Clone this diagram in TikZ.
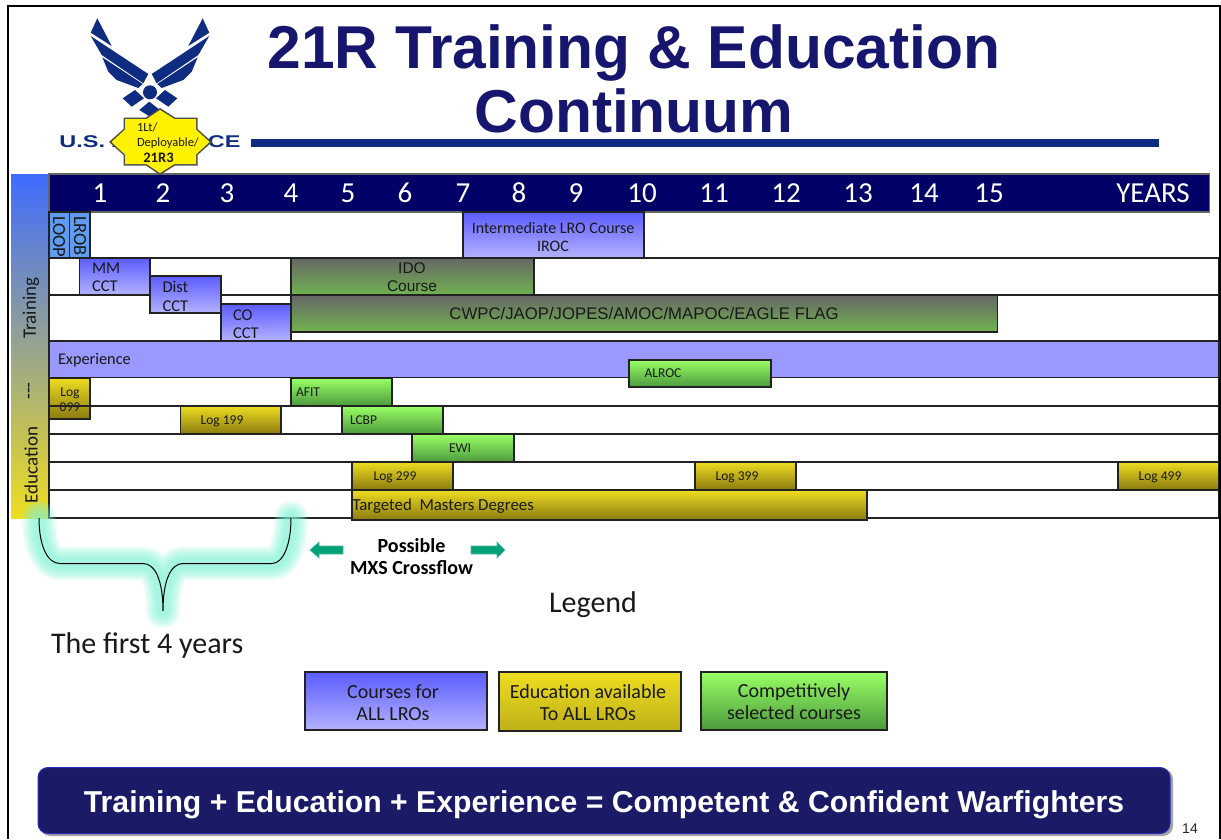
\documentclass[tikz,border=0pt]{standalone}
\usepackage{fontspec}
\setmainfont{Carlito}
\newfontfamily\arialf{Liberation Sans}
\usetikzlibrary{calc}
\definecolor{navyh}{HTML}{000066}
\definecolor{titleblue}{HTML}{16166E}
\definecolor{afblue}{HTML}{0F2D80}
\definecolor{edge}{HTML}{222222}
\definecolor{bluetop}{HTML}{5C5CFF}
\definecolor{bluebot}{HTML}{B3B3FF}
\definecolor{yeltop}{HTML}{EEDD20}
\definecolor{yelbot}{HTML}{8A7A10}
\definecolor{gretop}{HTML}{99FF66}
\definecolor{grebot}{HTML}{4C9A3C}
\definecolor{graytop}{HTML}{666666}
\definecolor{grnbot}{HTML}{70B34F}
\definecolor{glow}{HTML}{7FF5D8}
\definecolor{teal}{HTML}{00A078}
\definecolor{banner}{HTML}{1A1A66}
\definecolor{ltblue}{HTML}{5F9BEE}
\tikzset{
  boxb/.style={draw=edge,line width=1.1pt,inner sep=0pt,outer sep=0pt,anchor=north west},
  rowbox/.style={boxb,fill=white},
  bluebar/.style={boxb,top color=bluetop,bottom color=bluebot},
  yelbar/.style={boxb,top color=yeltop,bottom color=yelbot},
  grebar/.style={boxb,top color=gretop,bottom color=grebot},
  grnbar/.style={boxb,top color=graytop,bottom color=grnbot},
  lightblue/.style={boxb,fill=ltblue},
  txt/.style={inner sep=0pt,outer sep=0pt,text=black!90},
  yr/.style={txt,text=white,anchor=base,font=\fontsize{29}{29}\selectfont},
  small/.style={txt,font=\fontsize{13.5}{14}\selectfont},
  leg/.style={txt,font=\fontsize{20}{22}\selectfont,align=center},
  big/.style={txt,font=\fontsize{30}{30}\selectfont},
  side/.style={txt,rotate=90,font=\fontsize{19}{19}\selectfont},
  wing/.style={fill=afblue,draw=none},
}
\newcommand{\cbox}[6][]{\node[#2,#1,minimum width={(#5)*1pt-(#3)*1pt},minimum height={(#6)*1pt-(#4)*1pt}]}
\begin{document}
\begin{tikzpicture}[x=1pt,y=-1pt]
\useasboundingbox (0,0) rectangle (1221,839);
\fill[white] (0,0) rectangle (1221,839);
% frame
\draw[black,line width=2pt] (8,839) -- (8,6) -- (1220,6) -- (1220,839);
% logo
\fill[wing] (97.3,18.3) -- (111.7,46) -- (90.7,32.7) -- cycle;
\fill[wing] (90.7,36) -- (148.3,74) -- (143.3,83.3) -- (101.7,55) -- cycle;
\fill[wing] (102.3,57.3) -- (142.7,84) -- (138.3,88) -- (116.7,80) -- (108.3,71.7) -- cycle;
\fill[wing] (202.7,18.3) -- (188.3,46) -- (209.3,32.7) -- cycle;
\fill[wing] (209.3,36) -- (151.7,74) -- (156.7,83.3) -- (198.3,55) -- cycle;
\fill[wing] (197.7,57.3) -- (157.3,84) -- (161.7,88) -- (183.3,80) -- (191.7,71.7) -- cycle;
\fill[wing] (150,92.3) circle (7);
\fill[wing] (122.7,98.3) -- (135,90) -- (144,98.3) -- (131.7,106.7) -- cycle;
\fill[wing] (177.3,98.3) -- (165,90) -- (156,98.3) -- (168.3,106.7) -- cycle;
\fill[wing] (139.3,110) -- (149.3,101.7) -- (160,110) -- (150,116.7) -- cycle;
\node[inner sep=0pt,font=\arialf\bfseries\fontsize{17}{17}\selectfont,text=afblue,xscale=1.38,anchor=center] (usaf) at (150,142) {U.S. AIR FORCE};
\fill[afblue] (251,139) rectangle (1159,147);
% titles
\node[font=\arialf\bfseries\fontsize{60.5}{64}\selectfont,text=titleblue,align=center,inner sep=0pt] (title) at (634,78.5) {21R Training \& Education\\Continuum};
% left bar
\cbox[draw=none,top color={rgb,255:red,63;green,107;blue,255},middle color={rgb,255:red,176;green,176;blue,165},bottom color=yeltop]{boxb}{11}{174}{49}{518} (side) at (11,174) {};
\node[side] (ltrain) at (31,308) {Training};
\node[side] (ldash) at (31,391) {{-}{-}{-}};
\node[side] (ledu) at (31,465) {Education};
% header
\cbox[fill=navyh,draw=black!60]{boxb}{49}{174}{1209.5}{212} (head) at (49,174) {};
\foreach \n/\x in {1/100,2/163,3/227,4/291,5/348,6/405,7/463,8/519,9/576,10/642,11/714,12/786,13/858,14/924,15/989}
  \node[yr] (y\n) at (\x,202) {\n};
\node[yr] (yy) at (1153,202) {YEARS};
% top-row courses, cut off by the row below
\cbox{lightblue}{49}{212}{69.5}{258} (loop) at (49,212) {};
\cbox{lightblue}{69.5}{212}{90}{258} (lrob) at (69.5,212) {};
\node[txt,rotate=-90,anchor=west,font=\fontsize{18.5}{18.5}\selectfont] (tloop) at (59,216) {LOOP};
\node[txt,rotate=-90,anchor=west,font=\fontsize{18.5}{18.5}\selectfont] (tlrob) at (80,216) {LROB};
% rows
\cbox{rowbox}{49}{258}{1218.5}{295} (r2) at (49,258) {};
\cbox{rowbox}{49}{295}{1218.5}{341} (r3) at (49,295) {};
\cbox{rowbox}{49}{377}{1218.5}{406} (r5) at (49,377) {};
\cbox{rowbox}{49}{406}{1218.5}{434} (r6) at (49,406) {};
\cbox{rowbox}{49}{434}{1218.5}{462} (r7) at (49,434) {};
\cbox{rowbox}{49}{462}{1218.5}{490} (r8) at (49,462) {};
\cbox{rowbox}{49}{490}{1218.5}{518} (r9) at (49,490) {};
% training bars
\cbox{bluebar}{463}{212}{644}{258} (iroc) at (463,212) {};
\node[txt,font=\fontsize{16}{18}\selectfont,align=center] (tiroc) at (553,237) {Intermediate LRO Course\\IROC};
\cbox{bluebar}{79.5}{258}{150}{295} (mm) at (79.5,258) {};
\node[txt,anchor=west,align=left,font=\fontsize{16.5}{18.5}\selectfont] (tmm) at (92,277.5) {MM\\CCT};
\cbox{bluebar}{150}{276}{221}{313} (dist) at (150,276) {};
\node[txt,anchor=west,align=left,font=\fontsize{16.5}{18.5}\selectfont] (tdist) at (162.5,296.5) {Dist\\CCT};
\cbox{bluebar}{221}{304}{291}{341} (co) at (221,304) {};
\node[txt,anchor=west,align=left,font=\fontsize{16.5}{18.5}\selectfont] (tco) at (233,324) {CO\\CCT};
\cbox{grnbar}{291}{258}{534}{295} (ido) at (291,258) {};
\node[txt,font=\arialf\fontsize{15.5}{18}\selectfont,align=center] (tido) at (412,277) {IDO\\Course};
\cbox{grnbar}{291}{295}{997.5}{332} (cwpc) at (291,295) {};
\node[txt,font=\arialf\fontsize{16.75}{18}\selectfont] (tcwpc) at (644,314) {CWPC/JAOP/JOPES/AMOC/MAPOC/EAGLE FLAG};
% experience
\cbox[fill={rgb,255:red,153;green,153;blue,255}]{boxb}{49}{341}{1219}{377.5} (exp) at (49,341) {};
\node[txt,anchor=west,font=\fontsize{16.3}{18}\selectfont] (texp) at (58,360) {Experience};
\cbox{grebar}{629}{360}{771}{387} (alroc) at (629,360) {};
\node[small] (talroc) at (663,373.5) {ALROC};
% education bars
\cbox{yelbar}{49}{378}{90}{419} (log0) at (49,378) {};
\node[txt,font=\fontsize{13.5}{15}\selectfont,align=center] (tlog0) at (70,400) {Log\\099};
\draw[edge,line width=1.1pt] (r6.north west) -- (log0.east |- r6.north west);
\cbox{grebar}{291}{378}{392}{406} (afit) at (291,378) {};
\node[small,anchor=west] (tafit) at (296,392.5) {AFIT};
\cbox{yelbar}{180.5}{406}{281}{434} (l199) at (180.5,406) {};
\node[small] (t199) at (222,421) {Log 199};
\cbox{grebar}{342}{406}{443}{434} (lcbp) at (342,406) {};
\node[small,anchor=west] (tlcbp) at (350,420.5) {LCBP};
\cbox{grebar}{412}{434}{514}{462} (ewi) at (412,434) {};
\node[small] (tewi) at (460,448.5) {EWI};
\cbox{yelbar}{352}{462}{453}{490} (l299) at (352,462) {};
\node[small] (t299) at (395,477) {Log 299};
\cbox{yelbar}{695}{462}{796}{490} (l399) at (695,462) {};
\node[small] (t399) at (737,477) {Log 399};
\cbox{yelbar}{1118}{462}{1218.5}{490} (l499) at (1118,462) {};
\node[small] (t499) at (1160,477) {Log 499};
\cbox{yelbar}{352}{490}{867}{520} (tmd) at (352,490) {};
\node[txt,anchor=west,font=\fontsize{16.85}{18}\selectfont] (ttmd) at (352.5,506) {Targeted\ \ Masters Degrees};
% star
\fill[black!70] (160,108) -- (175,117.5) -- (197.5,117.5) -- (197.5,129) -- (212,142) -- (197.5,155) -- (197.5,165.5) -- (175,165.5) -- (160,175) -- (146,165.5) -- (123.5,165.5) -- (123.5,155) -- (109,142) -- (123.5,129) -- (123.5,117.5) -- (146,117.5) -- cycle;
\fill[yellow] (160,110) -- (174.5,119) -- (196,119) -- (196,129.5) -- (209.5,142) -- (196,154.5) -- (196,164) -- (174.5,164) -- (160,173) -- (146.5,164) -- (125,164) -- (125,154.5) -- (111.5,142) -- (125,129.5) -- (125,119) -- (146.5,119) -- cycle;
\node[txt,anchor=west,font=\fontsize{12.5}{15}\selectfont,align=left] (st) at (137,135.5) {1Lt/\\Deployable/};
\node[txt,font=\bfseries\fontsize{14.5}{14}\selectfont] (st2) at (158.5,157.5) {21R3};
% brace with glow
\coordinate (ba) at (39,518); \coordinate (bb) at (60,563.5); \coordinate (bc) at (143,563.5);
\coordinate (bd) at (163,611); \coordinate (be) at (183,563.5); \coordinate (bf) at (272,563.5); \coordinate (bg) at (291,518);
\foreach \w in {34,31,28,25,22,19,16,13,10}
  \draw[glow,opacity=.12,line width=\w pt,line cap=round,line join=round] (ba) .. controls (39,545) and (47,563.5) .. (bb) -- (bc) .. controls (155,563.5) and (163,580) .. (bd) .. controls (163,580) and (171,563.5) .. (be) -- (bf) .. controls (283,563.5) and (291,545) .. (bg);
\draw[black,line width=1pt] (ba) .. controls (39,545) and (47,563.5) .. (bb) -- (bc) .. controls (155,563.5) and (163,580) .. (bd) .. controls (163,580) and (171,563.5) .. (be) -- (bf) .. controls (283,563.5) and (291,545) .. (bg);
% crossflow
\fill[teal,draw=teal!70!white,line width=.6pt] (343,546) -- (319,546) -- (319,542) -- (310,550) -- (319,558) -- (319,554) -- (343,554) -- cycle;
\fill[teal,draw=teal!70!white,line width=.6pt] (471,546) -- (497,546) -- (497,542) -- (505,550) -- (497,558) -- (497,554) -- (471,554) -- cycle;
\node[txt,font=\bfseries\fontsize{20}{22}\selectfont,align=center,text=black] (cross) at (411.5,556.5) {Possible\\MXS Crossflow};
\node[big] (legend) at (593,604.5) {Legend};
\node[big,anchor=west] (first) at (51,645) {The first 4 years};
% legend boxes
\cbox{bluebar}{305}{672}{487}{730} (lg1) at (305,672) {};
\node[leg] (tl1) at (393,702.5) {Courses for\\ALL LROs};
\cbox[top color=yeltop,bottom color=yeltop!80!black]{boxb}{499}{672}{681}{731} (lg2) at (499,672) {};
\node[leg] (tl2) at (588,702.5) {Education available\\To ALL LROs};
\cbox{grebar}{701}{672}{887}{730} (lg3) at (701,672) {};
\node[leg] (tl3) at (794,701.5) {Competitively\\selected courses};
% banner
\fill[black!35,rounded corners=10pt] (40,769) rectangle (1173,836);
\node[draw={rgb,255:red,42;green,42;blue,190},fill=banner,line width=1pt,rounded corners=10pt,inner sep=0pt,outer sep=0pt,minimum width=1132pt,minimum height=66pt,anchor=north west] (ban) at (38,767.5) {};
\node[font=\arialf\bfseries\fontsize{30.2}{30}\selectfont,text=white,inner sep=0pt] (tban) at (604,805) {Training + Education + Experience = Competent \& Confident Warfighters};
\node[font=\arialf\fontsize{14}{14}\selectfont,text=black!85,inner sep=0pt] (pg) at (1190,829) {14};
\end{tikzpicture}
\end{document}
